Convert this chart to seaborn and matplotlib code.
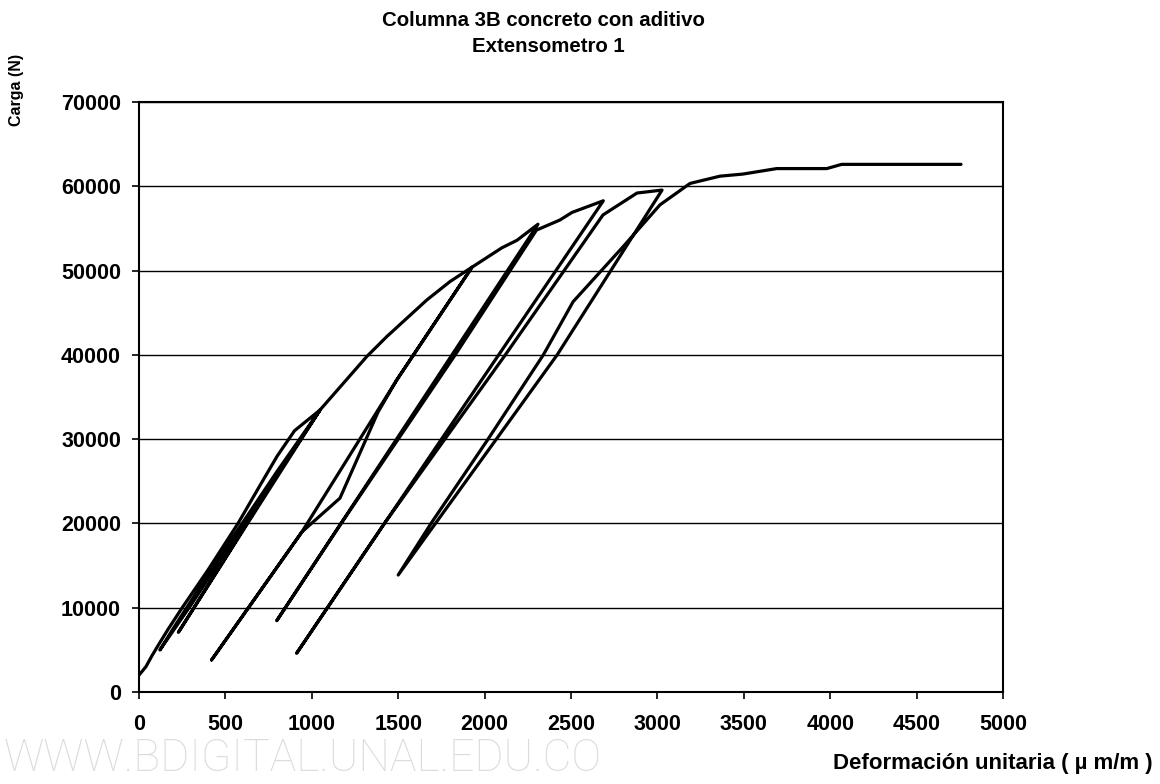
import numpy as np
import pandas as pd
import matplotlib
matplotlib.use("Agg")
import matplotlib.pyplot as plt
import seaborn as sns

# ---- data (strain in micro m/m, load in N) ----
load1_strain = [0, 40, 75, 110, 170, 250, 400, 573, 700, 800, 900, 1047]
load1_load = [2000, 3000, 4300, 5500, 7500, 10000, 14500, 20000, 24500, 28000, 31000, 33450]

unload1_strain = [1047, 600, 300, 121]
unload1_load = [33450, 19600, 10300, 4980]
reload1_strain = [121, 200, 450, 800, 1047]
reload1_load = [4980, 7600, 15500, 26200, 33450]

unload2_strain = [1047, 650, 228]
unload2_load = [33450, 20700, 7080]
reload2_strain = [228, 500, 800, 1047, 1318, 1433, 1665, 1800, 1927]
reload2_load = [7080, 15900, 25800, 33450, 39800, 42150, 46500, 48700, 50400]

unload3_strain = [1927, 1491, 943, 420]
unload3_load = [50400, 37000, 19000, 3800]
reload3_strain = [420, 943, 1163, 1383, 1491, 1927, 2100, 2188, 2309]
reload3_load = [3800, 19000, 23000, 33200, 37000, 50400, 52700, 53600, 55500]

unload4_strain = [2309, 1500, 797]
unload4_load = [55500, 30300, 8460]
reload4_strain = [797, 1170, 1830, 2300, 2436, 2506, 2687]
reload4_load = [8460, 20000, 40000, 54800, 56000, 56900, 58280]

unload5_strain = [2687, 1800, 912]
unload5_load = [58280, 31500, 4590]
reload5_strain = [912, 1420, 2120, 2685, 2882, 3027]
reload5_load = [4590, 20000, 40000, 56600, 59200, 59550]

unload6_strain = [3027, 2420, 2068, 1500]
unload6_load = [59550, 40000, 30000, 13880]
reload6_strain = [1500, 1690, 2020, 2340, 2512, 2800, 3015, 3189, 3362, 3495, 3690, 3980, 4066, 4757]
reload6_load = [13880, 20000, 30000, 40000, 46300, 52800, 57800, 60340, 61200, 61450, 62100, 62100, 62600, 62600]

x_ticks = [0, 500, 1000, 1500, 2000, 2500, 3000, 3500, 4000, 4500, 5000]
y_ticks = [0, 10000, 20000, 30000, 40000, 50000, 60000, 70000]

title1 = "Columna 3B concreto con aditivo"
title2 = "Extensometro 1"
xlabel = "Deformación unitaria ( µ m/m )"
ylabel = "Carga (N)"
watermark = "WWW.BDIGITAL.UNAL.EDU.CO"

segments = [
    (load1_strain, load1_load), (unload1_strain, unload1_load), (reload1_strain, reload1_load),
    (unload2_strain, unload2_load), (reload2_strain, reload2_load),
    (unload3_strain, unload3_load), (reload3_strain, reload3_load),
    (unload4_strain, unload4_load), (reload4_strain, reload4_load),
    (unload5_strain, unload5_load), (reload5_strain, reload5_load),
    (unload6_strain, unload6_load), (reload6_strain, reload6_load),
]
xs, ys = [], []
for i, (sx, sy) in enumerate(segments):
    if i == 0:
        xs += list(sx); ys += list(sy)
    else:
        xs += list(sx[1:]); ys += list(sy[1:])
df = pd.DataFrame({"strain": xs, "load": ys})

# ---- figure ----
sns.set_theme(style="white")
plt.rcParams["font.family"] = ["Liberation Sans", "DejaVu Sans"]
plt.rcParams["text.color"] = "black"

fig = plt.figure(figsize=(11.6, 7.84), dpi=100)
ax = fig.add_axes([139 / 1160, 1 - 692 / 784, (1003 - 139) / 1160, (692 - 102) / 784])

# light watermark along the bottom edge
fig.text(4 / 1160, 13 / 784, watermark, fontsize=32, color="#dcdcdc",
         ha="left", va="baseline", zorder=0, family=["Roboto", "DejaVu Sans"],
         fontweight="light")

sns.lineplot(data=df, x="strain", y="load", sort=False, estimator=None,
             color="black", lw=2.3, ax=ax, zorder=3)

ax.set_xlim(0, 5000)
ax.set_ylim(0, 70000)
ax.set_xticks(x_ticks)
ax.set_yticks(y_ticks)
ax.set_xticklabels([str(v) for v in x_ticks], fontsize=15.5, fontweight="bold")
ax.set_yticklabels([str(v) for v in y_ticks], fontsize=15.5, fontweight="bold")
ax.tick_params(axis="both", direction="out", length=5, width=1.2, color="black",
               bottom=True, left=True, labelcolor="black")
ax.tick_params(axis="x", pad=11)
ax.tick_params(axis="y", pad=8)
ax.set_xlabel("")
ax.set_ylabel("")
ax.yaxis.grid(True, color="black", lw=1.0)
ax.xaxis.grid(False)
for s in ax.spines.values():
    s.set_visible(True)
    s.set_color("black")
    s.set_linewidth(1.5)

fig.text(543 / 1160, 1 - 20 / 784, title1, ha="center", va="center",
         fontsize=14.7, fontweight="bold", color="black")
fig.text(548 / 1160, 1 - 47 / 784, title2, ha="center", va="center",
         fontsize=14.7, fontweight="bold", color="black")
fig.text(17 / 1160, 1 - 90 / 784, ylabel, ha="center", va="center", rotation=90,
         fontsize=11.5, fontweight="bold", color="black")
fig.text(1153 / 1160, 1 - 763 / 784, xlabel, ha="right", va="center",
         fontsize=16, fontweight="bold", color="black", zorder=5)

fig.savefig("out.png", dpi=100, facecolor="white")
